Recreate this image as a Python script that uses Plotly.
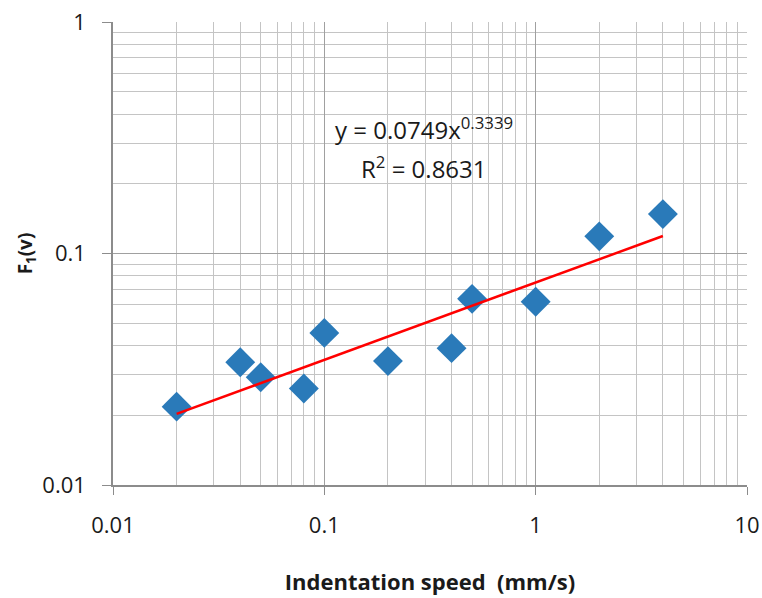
import plotly.graph_objects as go

speed = [0.02, 0.04, 0.05, 0.08, 0.1, 0.2, 0.4, 0.5, 1, 2, 4]
f1 = [0.0218, 0.0339, 0.0292, 0.0261, 0.0454, 0.0343, 0.039, 0.0637, 0.0619, 0.1186, 0.148]

coef_a = 0.0749
coef_b = 0.3339
r2 = 0.8631

x_ticks = [0.01, 0.1, 1, 10]
x_ticklabels = ["0.01", "0.1", "1", "10"]
y_ticks = [0.01, 0.1, 1]
y_ticklabels = ["0.01", "0.1", "1"]
minor_digits = [2, 3, 4, 5, 6, 7, 8, 9]

x_minor = [d * t for t in x_ticks[:-1] for d in minor_digits]
y_minor = [d * t for t in y_ticks[:-1] for d in minor_digits]

trend_x = [min(speed), max(speed)]
trend_y = [coef_a * v ** coef_b for v in trend_x]

fig = go.Figure()
fig.add_trace(go.Scatter(x=speed, y=f1, mode="markers",
                         marker=dict(symbol="diamond", size=23, color="#2a7ab9"),
                         showlegend=False))
fig.add_trace(go.Scatter(x=trend_x, y=trend_y, mode="lines",
                         line=dict(color="#ff0000", width=2.5), showlegend=False))

font_family = "Open Sans, Liberation Sans, sans-serif"
grid_major = "#a0a0a0"
grid_minor = "#c4c4c4"
txt = "#1a1a1a"

fig.update_xaxes(type="log", range=[-2, 1], tickmode="array", tickvals=x_ticks, ticktext=x_ticklabels,
                 showgrid=True, gridcolor=grid_major, gridwidth=1.3,
                 minor=dict(tickmode="array", tickvals=x_minor, showgrid=True,
                            gridcolor=grid_minor, gridwidth=1.3, ticks=""),
                 showline=True, linecolor="#8c8c8c", linewidth=1.5,
                 ticks="outside", ticklen=8, tickcolor="#8c8c8c",
                 ticklabelstandoff=12, automargin=False,
                 tickfont=dict(size=22, color=txt, family=font_family),
                 title=dict(text="<b>Indentation speed  (mm/s)</b>", standoff=36,
                            font=dict(size=22, color=txt, family=font_family)),
                 zeroline=False)
fig.update_yaxes(type="log", range=[-2, 0], tickmode="array", tickvals=y_ticks, ticktext=y_ticklabels,
                 showgrid=True, gridcolor=grid_major, gridwidth=1.3,
                 minor=dict(tickmode="array", tickvals=y_minor, showgrid=True,
                            gridcolor=grid_minor, gridwidth=1.3, ticks=""),
                 showline=True, linecolor="#8c8c8c", linewidth=1.5,
                 ticks="outside", ticklen=9, tickcolor="#8c8c8c",
                 ticklabelstandoff=12, automargin=False,
                 tickfont=dict(size=22, color=txt, family=font_family),
                 title=dict(text="<b>F<sub>1</sub>(v)</b>", standoff=5,
                            font=dict(size=19, color=txt, family=font_family)),
                 zeroline=False)

fig.add_annotation(x=0.491, y=0.812, xref="paper", yref="paper", showarrow=False,
                   text=f"y = {coef_a}x<sup>{coef_b}</sup>",
                   font=dict(size=24, color=txt, family=font_family))
fig.add_annotation(x=0.491, y=0.728, xref="paper", yref="paper", showarrow=False,
                   text=f"R<sup>2</sup> = {r2}",
                   font=dict(size=24, color=txt, family=font_family))

fig.update_layout(width=762, height=598, margin=dict(l=113, r=15, t=22, b=113),
                  plot_bgcolor="white", paper_bgcolor="white",
                  font=dict(family=font_family))

fig.write_html("out.html")
